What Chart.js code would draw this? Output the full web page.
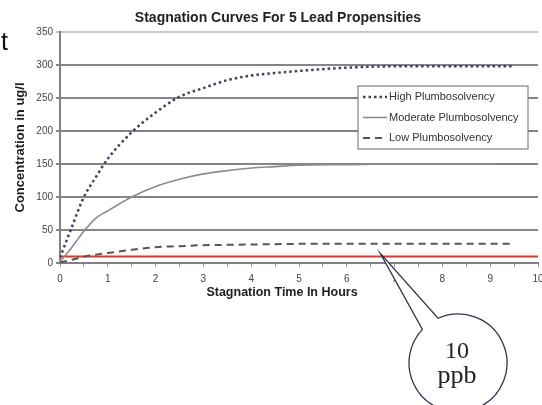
<!DOCTYPE html>
<html>
<head>
<meta charset="utf-8">
<script src="https://cdn.jsdelivr.net/npm/chart.js@4.4.1/dist/chart.umd.min.js"></script>
<style>
    body { margin: 0; background: #fff; }
    #wrap { position: relative; width: 542px; height: 405px; }
</style>
</head>
<body>
<div id="wrap"><canvas id="stagnationChart"></canvas></div>
<script>
// data (hours of stagnation vs ug/l)
const hours = [0, 0.25, 0.5, 0.75, 1, 1.5, 2, 2.5, 3, 3.5, 4, 4.5, 5, 6, 7, 8, 9, 9.5];
const highSeries = [8, 55, 100, 130, 158, 198, 228, 252, 265, 277, 284, 288, 291, 296, 298, 298, 298, 298];
const moderateSeries = [2, 24, 48, 68, 79, 100, 116, 127, 135, 140, 144, 146, 148, 149, 150, 150, 150, null];
const lowSeries = [1, 5, 9.5, 12.5, 15, 20, 24, 25.5, 27, 27.5, 28, 28.5, 29, 29, 29, 29, 29, 29];
const seriesNames = ['High Plumbosolvency', 'Moderate Plumbosolvency', 'Low Plumbosolvency'];
const limitHours = [0, 10];
const limitValue = 10;
const calloutHour = 6.7;
const calloutText = ['10', 'ppb'];
const yTickLabels = [0, 50, 100, 150, 200, 250, 300, 350];
const xTickLabels = [0, 1, 2, 3, 4, 5, 6, 7, 8, 9, 10];
const chartTitle = 'Stagnation Curves For 5 Lead Propensities';
const xTitle = 'Stagnation Time In Hours';
const yTitle = 'Concentration in ug/l';

const SANS = '"Liberation Sans", Arial, sans-serif';

function toPoints(values) {
    return hours.map((h, i) => ({ x: h, y: values[i] }));
}

// titles, legend box, callout bubble and the stray "t" from the page
const overlayPlugin = {
    id: 'overlay',
    afterDraw(chart) {
        const ctx = chart.ctx;
        ctx.save();

        // titles (off-centre in the original)
        ctx.fillStyle = '#222';
        ctx.textAlign = 'center';
        ctx.textBaseline = 'middle';
        ctx.font = 'bold 14px ' + SANS;
        ctx.fillText(chartTitle, 278, 18);
        ctx.font = 'bold 12.5px ' + SANS;
        ctx.fillText(xTitle, 282, 293);

        // legend inside the plot
        ctx.textAlign = 'left';
        ctx.fillStyle = '#fff';
        ctx.fillRect(358, 86, 170, 63);
        ctx.strokeStyle = '#808080';
        ctx.lineWidth = 1.2;
        ctx.strokeRect(358, 86, 170, 63);
        ctx.font = '11px ' + SANS;
        for (let i = 0; i < seriesNames.length; i++) {
            const ds = chart.data.datasets[i];
            const y = 97 + i * 20.5;
            ctx.setLineDash(ds.borderDash || []);
            ctx.strokeStyle = ds.borderColor;
            ctx.lineWidth = ds.borderWidth;
            ctx.beginPath();
            ctx.moveTo(363, y);
            ctx.lineTo(387, y);
            ctx.stroke();
            ctx.setLineDash([]);
            ctx.fillStyle = '#333';
            ctx.fillText(ds.label, 389, y);
        }

        // callout bubble pointing at the limit line
        const tipX = chart.scales.x.getPixelForValue(calloutHour);
        const tipY = chart.scales.y.getPixelForValue(limitValue) - 3;
        const cx = 458, cy = 363, r = 49;
        const a1 = Math.atan2(328 - cy, 421 - cx);
        const a2 = Math.atan2(316 - cy, 437 - cx);
        ctx.beginPath();
        ctx.arc(cx, cy, r, a2, a1 + Math.PI * 2);
        ctx.lineTo(tipX, tipY);
        ctx.closePath();
        ctx.fillStyle = '#fff';
        ctx.fill();
        ctx.strokeStyle = '#2f3550';
        ctx.lineWidth = 1.3;
        ctx.stroke();

        ctx.fillStyle = '#222';
        ctx.textAlign = 'center';
        ctx.textBaseline = 'alphabetic';
        ctx.font = '24px "Liberation Serif", "DejaVu Serif", serif';
        ctx.fillText(calloutText[0], 457, 358);
        ctx.font = '26px "Liberation Serif", "DejaVu Serif", serif';
        ctx.fillText(calloutText[1], 457, 383);

        // cropped word from the surrounding page
        ctx.textAlign = 'left';
        ctx.font = '25px ' + SANS;
        ctx.fillStyle = '#111';
        ctx.fillText('t', 1, 50);

        ctx.restore();
    }
};

const ctx = document.getElementById('stagnationChart').getContext('2d');
const chart = new Chart(ctx, {
    type: 'line',
    data: {
        datasets: [
            {
                label: seriesNames[0],
                data: toPoints(highSeries),
                borderColor: '#3d4263',
                borderWidth: 2.5,
                borderDash: [2.5, 3],
                pointRadius: 0
            },
            {
                label: seriesNames[1],
                data: toPoints(moderateSeries),
                borderColor: '#8c8c8c',
                borderWidth: 1.6,
                pointRadius: 0
            },
            {
                label: seriesNames[2],
                data: toPoints(lowSeries),
                borderColor: '#555',
                borderWidth: 2,
                borderDash: [7, 5],
                pointRadius: 0
            },
            {
                label: 'limit',
                data: limitHours.map(h => ({ x: h, y: limitValue })),
                borderColor: '#e3342a',
                borderWidth: 2,
                pointRadius: 0
            }
        ]
    },
    options: {
        responsive: true,
        maintainAspectRatio: false,
        animation: false,
        cubicInterpolationMode: 'monotone',
        layout: { padding: { left: 0, right: 4, top: 32, bottom: 104 } },
        plugins: {
            legend: { display: false },
            tooltip: { enabled: false },
            title: { display: false }
        },
        scales: {
            x: {
                type: 'linear',
                min: 0,
                max: 10,
                afterFit: s => { s.height = 38; s.paddingLeft = 0; s.paddingRight = 0; },
                ticks: {
                    stepSize: 0.5,
                    autoSkip: false,
                    maxRotation: 0,
                    padding: 6,
                    color: '#444',
                    font: { family: SANS, size: 10 },
                    callback: v => xTickLabels.includes(v) ? String(v) : ''
                },
                grid: { drawOnChartArea: false, drawTicks: true, tickLength: 4, color: '#999' },
                border: { color: '#808080', width: 2 }
            },
            y: {
                min: 0,
                max: 350,
                afterFit: s => { s.width = 60; s.paddingTop = 0; s.paddingBottom = 0; },
                afterBuildTicks: s => { s.ticks = yTickLabels.map(v => ({ value: v })); },
                ticks: {
                    padding: 3,
                    color: '#444',
                    font: { family: SANS, size: 10 }
                },
                grid: {
                    color: c => c.tick && c.tick.value === 350 ? '#c8c8c8' : '#858585',
                    lineWidth: 2,
                    tickLength: 4
                },
                border: { color: '#808080', width: 2 },
                title: {
                    display: true,
                    text: yTitle,
                    color: '#222',
                    font: { family: SANS, size: 13, weight: 'bold' },
                    padding: { top: 13, bottom: 0 }
                }
            }
        }
    },
    plugins: [overlayPlugin]
});
</script>
</body>
</html>
